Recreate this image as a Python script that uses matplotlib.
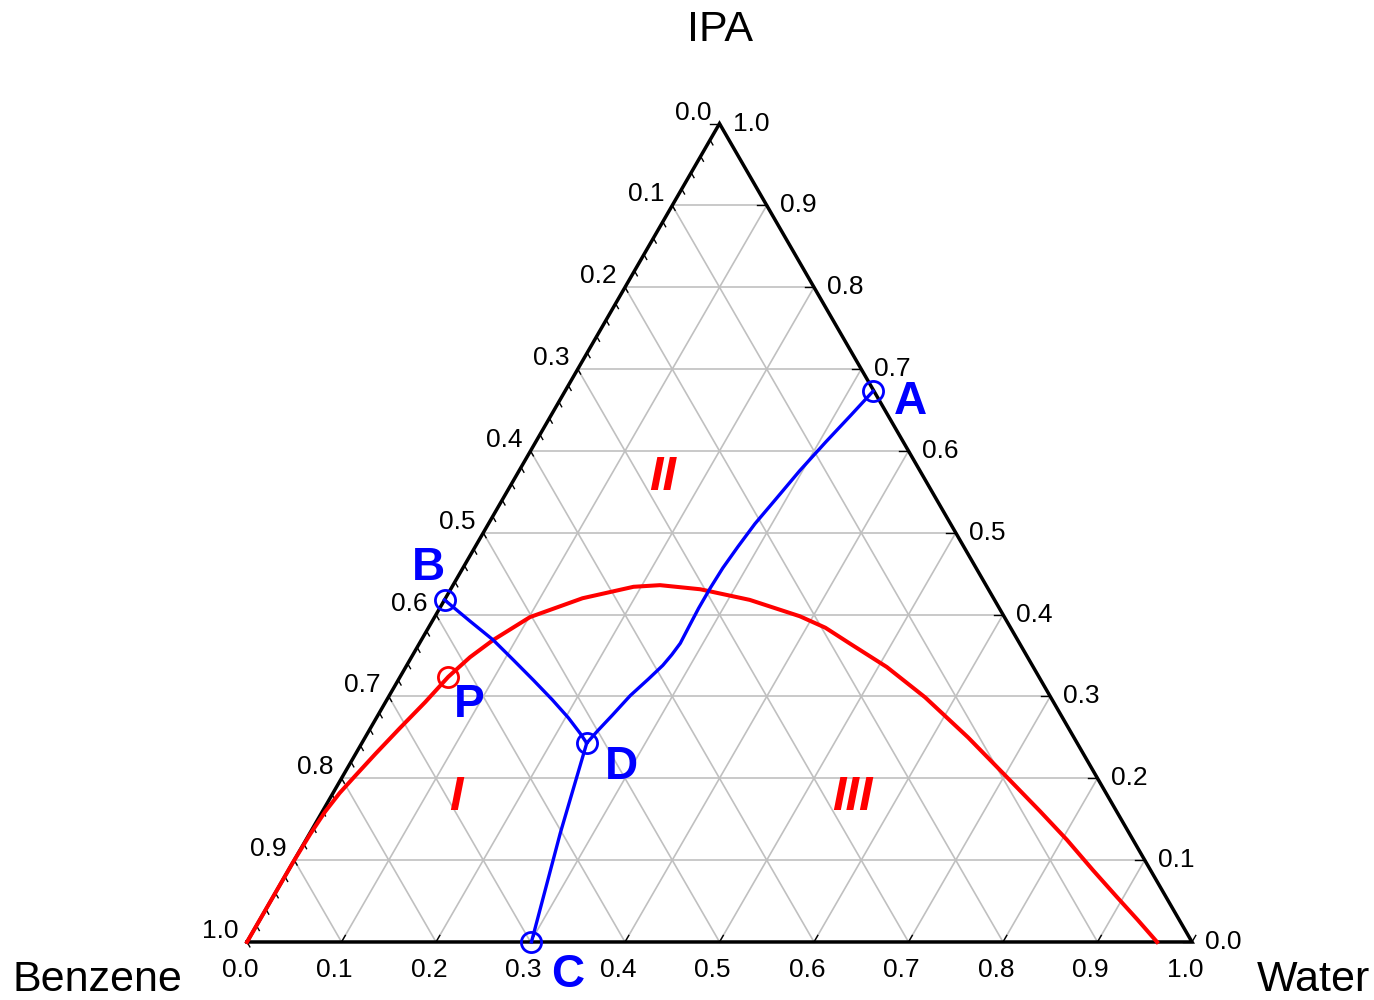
import numpy as np
import matplotlib
matplotlib.use('Agg')
import matplotlib.pyplot as plt

plt.rcParams['font.family'] = ['Liberation Sans', 'DejaVu Sans']

# compositions are (water, IPA) mass fractions, benzene = 1 - water - IPA
binodal_water = [0.000, 0.000, 0.000, 0.001, 0.003, 0.007, 0.013, 0.021, 0.031, 0.042,
                 0.051, 0.062, 0.076, 0.101, 0.145, 0.192, 0.219, 0.264, 0.323, 0.386,
                 0.420, 0.455, 0.509, 0.568, 0.638, 0.708, 0.759, 0.805, 0.851, 0.893,
                 0.929, 0.963]
binodal_ipa = [0.000, 0.049, 0.098, 0.132, 0.159, 0.182, 0.203, 0.230, 0.261, 0.293,
               0.324, 0.348, 0.369, 0.397, 0.420, 0.434, 0.436, 0.431, 0.418, 0.398,
               0.384, 0.365, 0.336, 0.299, 0.250, 0.198, 0.160, 0.125, 0.088, 0.055,
               0.027, 0.000]

path_ad_water = [0.326, 0.317, 0.307, 0.297, 0.289, 0.282, 0.278, 0.275, 0.274, 0.274,
                 0.275, 0.276, 0.274, 0.271, 0.264, 0.255, 0.248, 0.242, 0.238]
path_ad_ipa = [0.673, 0.643, 0.611, 0.576, 0.541, 0.511, 0.483, 0.457, 0.433, 0.408,
               0.385, 0.365, 0.351, 0.338, 0.321, 0.301, 0.277, 0.258, 0.243]

path_bd_water = [0.000, 0.040, 0.076, 0.109, 0.143, 0.175, 0.203, 0.225, 0.238]
path_bd_ipa = [0.418, 0.392, 0.369, 0.345, 0.320, 0.296, 0.274, 0.255, 0.243]

path_dc_water = [0.238, 0.265, 0.301]
path_dc_ipa = [0.243, 0.133, 0.000]

point_names = ['A', 'B', 'C', 'D']
point_water = [0.326, 0.000, 0.301, 0.238]
point_ipa = [0.673, 0.418, 0.000, 0.243]

p_water, p_ipa = 0.051, 0.324

regions = ['I', 'II', 'III']
region_water = [0.133, 0.156, 0.552]
region_ipa = [0.177, 0.567, 0.177]

ticks = np.round(np.arange(0, 1.01, 0.1), 1)

H = np.sqrt(3) / 2


def to_xy(water, ipa):
    water = np.asarray(water, dtype=float)
    ipa = np.asarray(ipa, dtype=float)
    return water + ipa / 2, ipa * H


fig = plt.figure(figsize=(13.74, 10), dpi=100)
ax = fig.add_axes([0, 0, 1, 1])
ax.set_xlim(-0.2614, 1.1926)
ax.set_ylim(-0.0614, 0.9968)
ax.axis('off')

# grid
grid_kw = dict(color='#c0c0c0', lw=1.2, zorder=1)
for t in ticks[1:-1]:
    # constant IPA
    x, y = to_xy([0, 1 - t], [t, t])
    ax.plot(x, y, **grid_kw)
    # constant water
    x, y = to_xy([t, t], [0, 1 - t])
    ax.plot(x, y, **grid_kw)
    # constant benzene
    x, y = to_xy([1 - t, 0], [0, 1 - t])
    ax.plot(x, y, **grid_kw)

# triangle
x, y = to_xy([0, 1, 0, 0], [0, 0, 1, 0])
ax.plot(x, y, color='black', lw=2.5, zorder=3, solid_joinstyle='miter')

tick_kw = dict(color='black', lw=1.0, zorder=3)
# left edge: benzene, minor ticks every 0.02
for b in np.arange(0, 1.001, 0.02):
    x0, y0 = to_xy(0, 1 - b)
    ax.plot([x0, x0 + 0.5 * 0.006], [y0, y0 - H * 0.006], **tick_kw)
# bottom edge: water
for t in ticks:
    x0, y0 = to_xy(t, 0)
    ax.plot([x0, x0 + 0.5 * 0.008], [y0, y0 + H * 0.008], **tick_kw)
# right edge: IPA
for t in ticks:
    x0, y0 = to_xy(1 - t, t)
    ax.plot([x0, x0 - 0.01], [y0, y0], **tick_kw)

lab_kw = dict(fontsize=19, color='black')
for t in ticks:
    x0, y0 = to_xy(t, 0)
    ax.text(x0 - 0.0074, y0 - 0.0296, f'{t:.1f}', ha='center', va='center', **lab_kw)
    x0, y0 = to_xy(0, 1 - t)
    ax.text(x0 - 0.0085, y0 + 0.0116, f'{t:.1f}', ha='right', va='center', **lab_kw)
    x0, y0 = to_xy(1 - t, t)
    ax.text(x0 + 0.014, y0, f'{t:.1f}', ha='left', va='center', **lab_kw)

ax.text(0.5, 0.965, 'IPA', ha='center', va='center', fontsize=31)
ax.text(-0.158, -0.040, 'Benzene', ha='center', va='center', fontsize=31)
ax.text(1.128, -0.040, 'Water', ha='center', va='center', fontsize=31)

# binodal curve
x, y = to_xy(binodal_water, binodal_ipa)
ax.plot(x, y, color='#ff0000', lw=2.9, zorder=4, solid_joinstyle='round')

# mixing paths
for w, i in [(path_ad_water, path_ad_ipa), (path_bd_water, path_bd_ipa),
             (path_dc_water, path_dc_ipa)]:
    x, y = to_xy(w, i)
    ax.plot(x, y, color='#0000ff', lw=2.4, zorder=5, solid_joinstyle='round')

x, y = to_xy(point_water, point_ipa)
ax.plot(x, y, 'o', ms=14.5, mfc='none', mec='#0000ff', mew=2.0, zorder=6)
offsets = {'A': (26.6, -7.9), 'B': (-11.5, 23), 'C': (26, -23.8), 'D': (25, -17.3)}
for name, xi, yi in zip(point_names, x, y):
    ax.annotate(name, (xi, yi), xytext=offsets[name], textcoords='offset points',
                ha='center', va='center', fontsize=33, fontweight='bold',
                color='#0000ff', zorder=7)

xp, yp = to_xy(p_water, p_ipa)
ax.plot([xp], [yp], 'o', ms=14.5, mfc='none', mec='#ff0000', mew=2.0, zorder=6)
ax.annotate('P', (xp, yp), xytext=(15, -20), textcoords='offset points',
            ha='center', va='center', fontsize=33, fontweight='bold',
            color='#0000ff', zorder=7)

x, y = to_xy(region_water, region_ipa)
for name, xi, yi in zip(regions, x, y):
    ax.text(xi, yi, name, ha='center', va='center', fontsize=35, fontweight='bold',
            fontstyle='italic', color='#ff0000', zorder=7)

fig.savefig('out.png', dpi=100)
